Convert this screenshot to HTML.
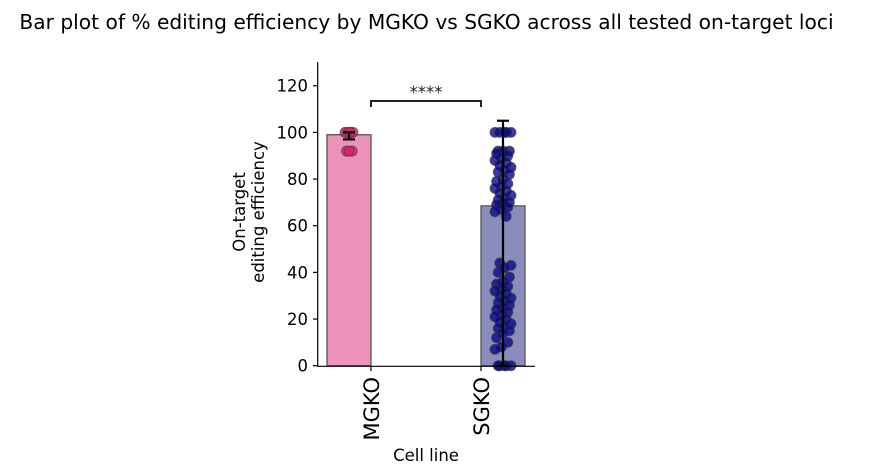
<!DOCTYPE html>
<html><head><meta charset="utf-8"><style>
body{margin:0;background:#fff;}
svg{display:block;font-family:"DejaVu Sans","Liberation Sans",sans-serif;}
</style></head><body>
<svg id="c" width="876" height="475">
<text x="426.5" y="29" font-size="20.2" text-anchor="middle" fill="#000">Bar plot of % editing efficiency by MGKO vs SGKO across all tested on-target loci</text>
</svg>
<script>
const categories=["MGKO","SGKO"];
const means=[99,68.5];
const errLow=[97,0];
const errHigh=[100,105];
const yTicks=[0,20,40,60,80,100,120];
const mgkoPoints=[100,100,100,100,100,92,92,92];
const sgkoPoints=[100,100,100,100,100,92,92,92,91,90,89,88,87,86,85,84,83,82,80,79,78,77,76,75,74,73,72,71,70,70,69,68,67,66,64,44,43,42,40,38,36,35,34,33,32,31,30,29,28,27,26,25,24,23,22,21,20,19,18,17,16,15,14,12,10,8,7,0,0,0,0,0];
const svg=document.getElementById('c');
const NS='http://www.w3.org/2000/svg';
function el(t,a,p){const e=document.createElementNS(NS,t);for(const k in a)e.setAttribute(k,a[k]);(p||svg).appendChild(e);return e;}
const y0=365.7,pxu=2.333;
function Y(v){return y0-v*pxu;}
const tickX=[371,481];
function barLeft(i){return i==0?tickX[0]-44:tickX[1];}
const fills=["#ec93bb","#8a8cbc"],dots=["#e0206e","#0a0a85"];
categories.forEach((c,i)=>{
 const b=el('rect',{x:barLeft(i),y:Y(means[i]),width:44,height:y0-Y(means[i]),fill:fills[i],stroke:'#555','stroke-width':1.3});
 
 
});
[mgkoPoints,sgkoPoints].forEach((pts,i)=>{
 const cx=barLeft(i)+22;
 const spread=i==0?0.8:1.6;
 const g=el('g',{});
 
 
 pts.forEach((v,j)=>{
  const off=((j*7)%11-5)*spread;
  const p=el('circle',{cx:cx+off,cy:Y(v),r:5,fill:dots[i],'fill-opacity':0.8,stroke:'#333','stroke-opacity':0.6,'stroke-width':1},g);
  
  
 });
});
categories.forEach((c,i)=>{
 const cx=barLeft(i)+22;
 const g=el('g',{stroke:'#000','stroke-width':2.2});
 
 
 el('line',{x1:cx,x2:cx,y1:Y(errLow[i]),y2:Y(errHigh[i])},g);
 el('line',{x1:cx-6,x2:cx+6,y1:Y(errLow[i]),y2:Y(errLow[i])},g);
 el('line',{x1:cx-6,x2:cx+6,y1:Y(errHigh[i]),y2:Y(errHigh[i])},g);
});
const ax=el('g',{stroke:'#000','stroke-width':1.2});


el('line',{x1:317.7,x2:317.7,y1:62,y2:366.3},ax);
el('line',{x1:317.1,x2:535,y1:366.3,y2:366.3},ax);
yTicks.forEach(t=>{
 el('line',{x1:313,x2:317.7,y1:Y(t),y2:Y(t)},ax);
 const tx=el('text',{x:308,y:Y(t)+6,'font-size':16.5,'text-anchor':'end',fill:'#000',stroke:'none'});
 tx.textContent=t;
 
 
});
categories.forEach((c,i)=>{
 el('line',{x1:tickX[i],x2:tickX[i],y1:366.3,y2:371},ax);
 const tx=el('text',{x:0,y:0,'font-size':21,'text-anchor':'end',fill:'#000',stroke:'none',transform:`translate(${tickX[i]+8},377) rotate(-90)`});
 tx.textContent=c;
 
 
});
const xl=el('text',{x:426,y:461,'font-size':16.5,'text-anchor':'middle',fill:'#000'});
xl.textContent='Cell line';


const yl=el('text',{'font-size':16.5,'text-anchor':'middle',fill:'#000',transform:'translate(245,212) rotate(-90)'});


const t1=el('tspan',{x:0,dy:0},yl);t1.textContent='On-target';
const t2=el('tspan',{x:0,dy:19},yl);t2.textContent='editing efficiency';
const br=el('path',{d:'M371,107 L371,101 L481,101 L481,107',fill:'none',stroke:'#222','stroke-width':2});


const st=el('text',{x:426,y:98,'font-size':16.5,'text-anchor':'middle',fill:'#222'});
st.textContent='****';


</script>
</body></html>
